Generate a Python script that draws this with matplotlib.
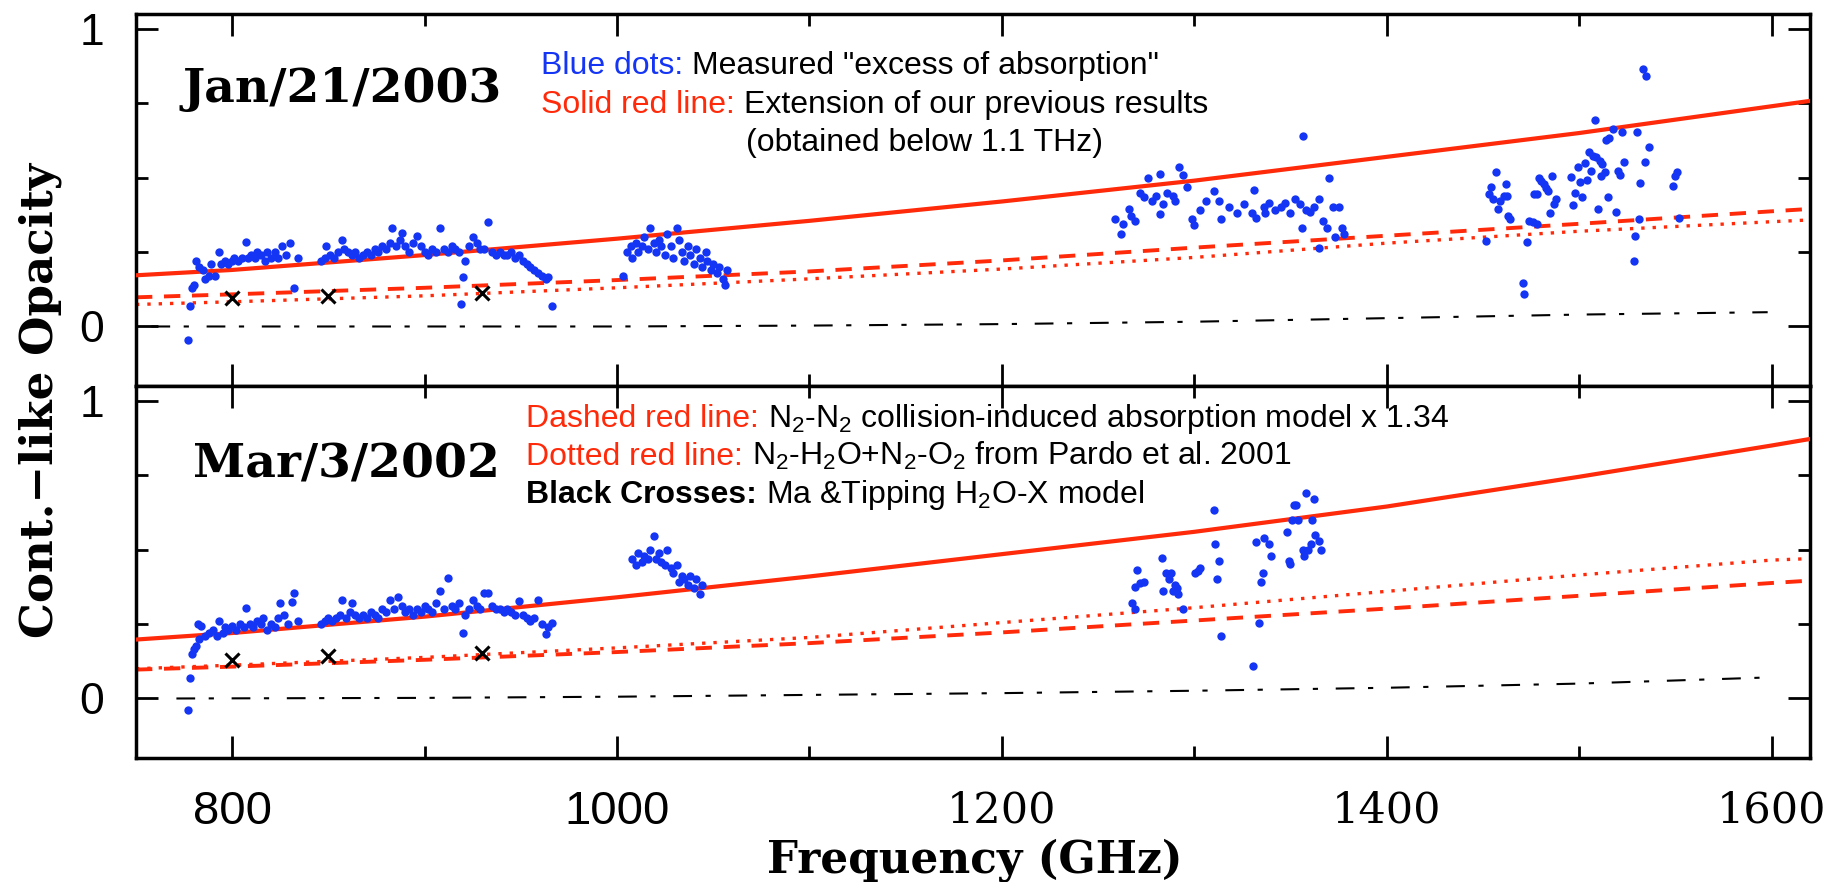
import matplotlib
matplotlib.use("Agg")
import matplotlib.pyplot as plt
from matplotlib.ticker import MultipleLocator, FixedLocator

W, H = 1847, 882

# --- model curves (sampled every 100 GHz) ---
grid = [750, 800, 900, 1000, 1100, 1200, 1300, 1400, 1500, 1600, 1620]

jan_solid = [0.172, 0.19, 0.24, 0.295, 0.355, 0.42, 0.49, 0.57, 0.65, 0.74, 0.758]
jan_dashed = [0.098, 0.108, 0.13, 0.156, 0.185, 0.222, 0.265, 0.305, 0.345, 0.387, 0.395]
jan_dotted = [0.074, 0.083, 0.103, 0.13, 0.16, 0.193, 0.232, 0.28, 0.32, 0.352, 0.358]

mar_solid = [0.198, 0.22, 0.275, 0.34, 0.41, 0.485, 0.56, 0.645, 0.745, 0.85, 0.872]
mar_dashed = [0.097, 0.107, 0.13, 0.156, 0.186, 0.222, 0.262, 0.302, 0.345, 0.388, 0.396]
mar_dotted = [0.10, 0.112, 0.138, 0.17, 0.205, 0.255, 0.305, 0.36, 0.415, 0.465, 0.47]

# black dash-dot model
jan_dd_f = [758, 900, 1000, 1100, 1200, 1300, 1400, 1500, 1598]
jan_dd_v = [0.0, 0.0, 0.0, 0.003, 0.008, 0.016, 0.028, 0.04, 0.048]
mar_dd_f = [771, 900, 1000, 1100, 1200, 1300, 1400, 1500, 1595]
mar_dd_v = [0.0, 0.002, 0.006, 0.012, 0.018, 0.026, 0.036, 0.05, 0.07]

# Ma & Tipping crosses
cross_f = [800, 850, 930]
jan_cross = [0.095, 0.103, 0.112]
mar_cross = [0.13, 0.143, 0.154]

# --- measured excess absorption, Jan/21/2003 ---
jan_f = [777, 778, 779, 780, 781, 783, 785, 786, 788, 789, 791, 793, 794, 796, 798,
         800, 801, 803, 805, 807, 808, 810, 812, 813, 815, 817, 818, 820, 822, 824,
         826, 828, 830, 832, 834,
         846, 848, 849, 851, 853, 855, 857, 858, 860, 862, 864, 866, 868, 870, 872,
         874, 876, 878, 880, 882, 883, 885, 887, 888, 890, 892, 894, 896, 898, 900,
         902, 904, 906, 908, 910, 912, 914, 916, 918,
         919, 920, 921, 923, 925, 927, 929, 931, 933, 935, 937, 939, 941, 943, 945,
         947, 949, 951, 953, 955, 957, 959, 961, 963, 964, 966,
         1003, 1005, 1007, 1008, 1010, 1011, 1013, 1014, 1016, 1017, 1019, 1020, 1022,
         1023, 1025, 1026, 1028, 1029, 1031, 1032, 1034, 1035, 1037, 1038, 1040, 1041,
         1043, 1044, 1046, 1047, 1049, 1050, 1052, 1053, 1055, 1056, 1057,
         1259, 1262, 1263, 1266, 1267, 1269, 1272, 1274, 1276, 1278, 1280, 1282, 1282,
         1284, 1286, 1289, 1290, 1292, 1294, 1296, 1299, 1300, 1303, 1306, 1310, 1313,
         1314, 1318, 1322, 1326, 1330, 1331, 1332, 1336, 1337, 1339, 1342, 1345, 1347,
         1350, 1352.6, 1355, 1356, 1356.7, 1358, 1360, 1362, 1365, 1365, 1367, 1369,
         1370, 1372, 1373, 1375, 1377, 1378,
         1451.6, 1453, 1454, 1455, 1456.8, 1458, 1459, 1461, 1462, 1462.5, 1463, 1464,
         1471, 1471.6, 1473, 1474, 1476, 1478, 1476.5, 1478, 1479, 1480, 1482, 1483,
         1484, 1486, 1485, 1487, 1488,
         1495.9, 1496.9, 1497.8, 1499.5, 1500.4, 1501.7, 1503, 1504.2, 1505.2, 1506.4,
         1507.3, 1508.2, 1509, 1510, 1510.8, 1511.6, 1512.1, 1513.4, 1513.9, 1515.1,
         1515.6, 1517.4, 1519.4, 1520.3, 1521.2, 1522.2, 1523.3, 1528.5, 1529.2, 1530.2,
         1531.2, 1531.9, 1533, 1535, 1534.2, 1536.1, 1549, 1549.8, 1551, 1552]
jan_v = [-0.045, 0.07, 0.13, 0.14, 0.22, 0.20, 0.19, 0.16, 0.17, 0.21, 0.17, 0.25, 0.21, 0.22, 0.21,
         0.22, 0.23, 0.22, 0.23, 0.285, 0.23, 0.24, 0.23, 0.25, 0.24, 0.22, 0.25, 0.23, 0.25, 0.23,
         0.27, 0.24, 0.28, 0.13, 0.23,
         0.22, 0.23, 0.27, 0.24, 0.23, 0.25, 0.29, 0.26, 0.25, 0.24, 0.25, 0.23, 0.24, 0.25, 0.24,
         0.26, 0.25, 0.27, 0.26, 0.28, 0.33, 0.27, 0.29, 0.315, 0.27, 0.25, 0.28, 0.305, 0.27, 0.25,
         0.24, 0.26, 0.25, 0.33, 0.26, 0.25, 0.27, 0.26, 0.25,
         0.075, 0.165, 0.22, 0.27, 0.30, 0.28, 0.26, 0.26, 0.35, 0.25, 0.24, 0.25, 0.24, 0.24, 0.25,
         0.23, 0.24, 0.22, 0.21, 0.20, 0.19, 0.18, 0.17, 0.16, 0.165, 0.07,
         0.17, 0.25, 0.27, 0.23, 0.28, 0.25, 0.27, 0.30, 0.26, 0.33, 0.28, 0.25, 0.29,
         0.27, 0.24, 0.31, 0.27, 0.23, 0.33, 0.29, 0.25, 0.22, 0.27, 0.24, 0.21, 0.26,
         0.23, 0.20, 0.25, 0.22, 0.19, 0.21, 0.18, 0.20, 0.16, 0.14, 0.19,
         0.36, 0.31, 0.345, 0.395, 0.37, 0.355, 0.45, 0.435, 0.50, 0.42, 0.44, 0.513, 0.378,
         0.41, 0.45, 0.44, 0.42, 0.535, 0.51, 0.47, 0.36, 0.34, 0.39, 0.42, 0.455, 0.42,
         0.36, 0.40, 0.38, 0.41, 0.38, 0.46, 0.365, 0.40, 0.38, 0.415, 0.39, 0.40, 0.415,
         0.38, 0.43, 0.41, 0.33, 0.64, 0.39, 0.385, 0.40, 0.43, 0.265, 0.355, 0.33,
         0.50, 0.40, 0.30, 0.40, 0.33, 0.31,
         0.287, 0.445, 0.47, 0.43, 0.518, 0.395, 0.42, 0.44, 0.48, 0.44, 0.372, 0.36,
         0.146, 0.109, 0.285, 0.355, 0.35, 0.345, 0.445, 0.445, 0.50, 0.49, 0.48, 0.465,
         0.455, 0.507, 0.38, 0.41, 0.43,
         0.501, 0.409, 0.45, 0.535, 0.484, 0.434, 0.549, 0.492, 0.585, 0.521,
         0.574, 0.693, 0.569, 0.394, 0.557, 0.507, 0.546, 0.518, 0.625, 0.436,
         0.634, 0.664, 0.386, 0.523, 0.51, 0.653, 0.554, 0.22, 0.304, 0.655,
         0.36, 0.481, 0.864, 0.841, 0.554, 0.602, 0.472, 0.507, 0.518, 0.366]

# --- measured excess absorption, Mar/3/2002 ---
mar_f = [777, 778, 779, 780, 781, 782, 783, 784, 786, 788, 790, 792, 793, 795, 796,
         798, 800, 802, 804, 806, 807, 809, 811, 813, 815, 816, 818, 820, 822, 824,
         825, 827, 829, 831, 832, 834,
         846, 848, 850, 852, 854, 856, 857, 859, 861, 862, 864, 866, 868, 870, 872,
         874, 876, 878, 880, 882, 884, 886, 888, 890, 892, 894, 896, 898, 900, 902,
         904, 906, 908, 910, 912, 914, 916, 918,
         920, 921, 923, 925, 927, 929, 931, 933, 935, 937, 939, 941, 943, 945, 947,
         949, 951, 953, 955, 957, 959, 961, 963, 964, 966,
         1008, 1010, 1011, 1013, 1014, 1016, 1017, 1019, 1020, 1022, 1023, 1025, 1026,
         1028, 1029, 1031, 1032, 1034, 1035, 1037, 1038, 1040, 1041, 1043, 1044,
         1267.5, 1269.4, 1269, 1270, 1272, 1274, 1283, 1284, 1285.5, 1287, 1288, 1289,
         1290, 1291, 1291.6, 1294, 1300.5, 1302, 1303, 1310, 1311, 1312, 1312.8, 1314,
         1330.7, 1332, 1333.8, 1334.7, 1335.5, 1336, 1338.6, 1340, 1348.3, 1349, 1350,
         1350.8, 1352, 1353, 1354, 1356.3, 1357, 1358, 1359, 1360.7, 1361, 1362, 1363,
         1365, 1366]
mar_v = [-0.04, 0.07, 0.15, 0.165, 0.178, 0.25, 0.20, 0.245, 0.21, 0.22, 0.23, 0.21, 0.26, 0.22, 0.24,
         0.23, 0.245, 0.23, 0.25, 0.24, 0.305, 0.25, 0.24, 0.26, 0.25, 0.27, 0.23, 0.25, 0.24, 0.27,
         0.32, 0.28, 0.25, 0.325, 0.355, 0.26,
         0.25, 0.26, 0.27, 0.26, 0.27, 0.28, 0.33, 0.27, 0.29, 0.32, 0.28, 0.27, 0.28, 0.27, 0.29,
         0.28, 0.27, 0.30, 0.29, 0.33, 0.30, 0.34, 0.31, 0.29, 0.30, 0.28, 0.30, 0.29, 0.31, 0.30,
         0.29, 0.32, 0.36, 0.30, 0.405, 0.31, 0.30, 0.32,
         0.22, 0.28, 0.30, 0.33, 0.31, 0.30, 0.355, 0.355, 0.31, 0.30, 0.30, 0.29, 0.30, 0.29, 0.28,
         0.326, 0.28, 0.27, 0.26, 0.27, 0.33, 0.25, 0.218, 0.24, 0.255,
         0.47, 0.45, 0.49, 0.46, 0.48, 0.47, 0.50, 0.545, 0.47, 0.49, 0.46, 0.45, 0.50,
         0.44, 0.42, 0.45, 0.39, 0.41, 0.40, 0.38, 0.41, 0.37, 0.40, 0.35, 0.38,
         0.32, 0.30, 0.373, 0.433, 0.387, 0.39, 0.473, 0.362, 0.42, 0.40, 0.42, 0.36,
         0.38, 0.37, 0.35, 0.30, 0.42, 0.43, 0.44, 0.634, 0.52, 0.40, 0.463, 0.209,
         0.11, 0.525, 0.255, 0.39, 0.42, 0.54, 0.52, 0.48, 0.56, 0.463, 0.453,
         0.60, 0.65, 0.65, 0.60, 0.50, 0.48, 0.69, 0.50, 0.52, 0.60, 0.67, 0.55,
         0.53, 0.50]

RED = "#ff2a0a"
BLUE = "#1535f5"
SERIF = "DejaVu Serif"
SANS = "Liberation Sans"

plt.rcParams["mathtext.fontset"] = "custom"
plt.rcParams["mathtext.rm"] = SANS
plt.rcParams["mathtext.it"] = SANS + ":italic"
plt.rcParams["mathtext.bf"] = SANS + ":bold"

fig = plt.figure(figsize=(W / 100, H / 100), dpi=100)
left, right = 136 / W, 1810 / W
ax1 = fig.add_axes([left, 1 - 386 / H, right - left, (386 - 14) / H])
ax2 = fig.add_axes([left, 1 - 758 / H, right - left, (758 - 386) / H], sharex=ax1)

panels = [
    (ax1, jan_solid, jan_dashed, jan_dotted, jan_dd_f, jan_dd_v, jan_cross, jan_f, jan_v),
    (ax2, mar_solid, mar_dashed, mar_dotted, mar_dd_f, mar_dd_v, mar_cross, mar_f, mar_v),
]
for ax, sol, das, dot, ddf, ddv, crs, fv, vv in panels:
    ax.plot(ddf, ddv, color="k", lw=1.5, dashes=(9, 6.5, 2.5, 8.5), zorder=2)
    ax.plot(grid, dot, color=RED, lw=2.4, dashes=(1, 2.4), zorder=2)
    ax.plot(grid, das, color=RED, lw=2.8, dashes=(4.2, 3.0), zorder=2)
    ax.plot(grid, sol, color=RED, lw=3, zorder=3)
    ax.scatter(fv, vv, s=36, color=BLUE, lw=0, zorder=4)
    ax.plot(cross_f, crs, "x", color="k", ms=10, mew=2.2, zorder=5)

    ax.set_xlim(750, 1620)
    ax.set_ylim(-0.2, 1.05)
    ax.xaxis.set_major_locator(MultipleLocator(200))
    ax.xaxis.set_minor_locator(MultipleLocator(100))
    ax.set_yticks([0, 1])
    ax.set_yticklabels(["0", "1"], fontfamily=SANS, fontsize=32)
    ax.yaxis.set_minor_locator(FixedLocator([0.25, 0.5, 0.75]))
    ax.tick_params(which="both", direction="in", top=True, right=True, width=2)
    ax.tick_params(which="major", length=16)
    ax.tick_params(which="minor", length=8.5)
    ax.tick_params(axis="y", pad=23)
    for s in ax.spines.values():
        s.set_linewidth(2.5)

ax1.tick_params(labelbottom=False)
ax2.set_xticks([800, 1000, 1200, 1400, 1600])
ax2.set_xticklabels(["800", "1000", "1200", "1400", "1600"])
ax2.tick_params(axis="x", pad=23)
for lbl, fam, size in zip(ax2.get_xticklabels(),
                          [SANS, SANS, SERIF, SERIF, SERIF],
                          [34, 34, 31, 31, 31]):
    lbl.set_fontfamily(fam)
    lbl.set_fontsize(size)

# dates
ax1.text(774, 0.753, "Jan/21/2003", family=SERIF, fontweight="bold", fontsize=34, va="baseline")
ax2.text(779.7, 0.742, "Mar/3/2002", family=SERIF, fontweight="bold", fontsize=34, va="baseline")

# axis titles
fig.text(975 / W, 9 / H, "Frequency (GHz)", family=SERIF, fontweight="bold",
         fontsize=31.5, ha="center", va="baseline")
fig.text(53 / W, 1 - 400 / H, "Cont.\u2212like Opacity", family=SERIF, fontweight="bold",
         fontsize=32.5, rotation=90, rotation_mode="anchor", ha="center", va="baseline")

# colour-coded notes, pieces laid out left to right in pixels
renderer = fig.canvas.get_renderer()


def note(x, y, parts, size=23):
    for txt, col, wt in parts:
        t = fig.text(x / W, 1 - y / H, txt, color=col, fontweight=wt,
                     family=SANS, fontsize=size, va="baseline")
        x += t.get_window_extent(renderer=renderer).width + 0.28 * size / 0.72


note(541, 74, [("Blue dots:", BLUE, "normal"),
               ('Measured "excess of absorption"', "k", "normal")])
note(541, 113, [("Solid red line:", RED, "normal"),
                ("Extension of our previous results", "k", "normal")])
note(746, 151, [("(obtained below 1.1 THz)", "k", "normal")])

note(526, 427, [("Dashed red line:", RED, "normal"),
                ("N$_2$-N$_2$ collision-induced absorption model x 1.34", "k", "normal")])
note(526, 464.5, [("Dotted red line:", RED, "normal"),
                  ("N$_2$-H$_2$O+N$_2$-O$_2$ from Pardo et al. 2001", "k", "normal")])
note(526, 503, [("Black Crosses:", "k", "bold"),
                ("Ma &Tipping H$_2$O-X model", "k", "normal")])

fig.savefig("out.png", dpi=100)
